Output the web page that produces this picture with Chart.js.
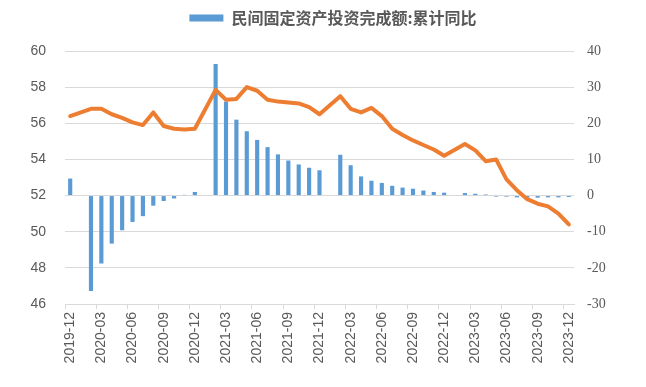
<!DOCTYPE html>
<html>
<head>
<meta charset="utf-8">
<script src="https://cdn.jsdelivr.net/npm/chart.js@4.4.1/dist/chart.umd.min.js"></script>
<style>
  html, body { margin: 0; padding: 0; background: #fff; }
</style>
</head>
<body>
<canvas id="grafico" width="646" height="387"></canvas>
<script>
// meses (janeiro sem dado: dados de jan-fev saem juntos)
const meses = [
  '2019-12',
  '2020-01', '2020-02', '2020-03', '2020-04', '2020-05', '2020-06',
  '2020-07', '2020-08', '2020-09', '2020-10', '2020-11', '2020-12',
  '2021-01', '2021-02', '2021-03', '2021-04', '2021-05', '2021-06',
  '2021-07', '2021-08', '2021-09', '2021-10', '2021-11', '2021-12',
  '2022-01', '2022-02', '2022-03', '2022-04', '2022-05', '2022-06',
  '2022-07', '2022-08', '2022-09', '2022-10', '2022-11', '2022-12',
  '2023-01', '2023-02', '2023-03', '2023-04', '2023-05', '2023-06',
  '2023-07', '2023-08', '2023-09', '2023-10', '2023-11', '2023-12'
];

// 民间固定资产投资完成额:累计同比 (%), eixo direito
const acumulado = [
  4.7,
  null, -26.4, -18.8, -13.3, -9.6, -7.3,
  -5.7, -2.8, -1.5, -0.8, 0.2, 1.0,
  null, 36.4, 26.0, 21.0, 17.8, 15.4,
  13.4, 11.4, 9.7, 8.6, 7.7, 7.0,
  null, 11.3, 8.4, 5.3, 4.1, 3.5,
  2.7, 2.2, 1.9, 1.4, 1.0, 0.8,
  null, 0.7, 0.5, 0.3, -0.3, -0.3,
  -0.5, -0.6, -0.6, -0.5, -0.5, -0.4
];

// linha laranja (%), eixo esquerdo
const participacao = [
  56.4,
  null, 56.8, 56.8, 56.5, 56.3, 56.05,
  55.9, 56.6, 55.85, 55.7, 55.65, 55.7,
  null, 57.85, 57.3, 57.35, 58.0, 57.8,
  57.3, 57.2, 57.15, 57.1, 56.9, 56.5,
  null, 57.5, 56.8, 56.6, 56.85, 56.4,
  55.7, 55.35, 55.05, 54.8, 54.55, 54.2,
  null, 54.85, 54.5, 53.9, 54.0, 52.9,
  52.3, 51.8, 51.55, 51.4, 51.0, 50.4
];

const ticksEsquerda = [46, 48, 50, 52, 54, 56, 58, 60];
const ticksDireita = [-30, -20, -10, 0, 10, 20, 30, 40];

const cinza = '#595959';
const linhaGrade = '#D9D9D9';

// espaco extra embaixo da legenda
const legendaAlta = {
  id: 'legendaAlta',
  beforeInit(chart) {
    const fitOriginal = chart.legend.fit;
    chart.legend.fit = function () {
      fitOriginal.bind(chart.legend)();
      this.height += 15;
    };
  }
};

new Chart(document.getElementById('grafico'), {
  type: 'bar',
  data: {
    labels: meses,
    datasets: [
      {
        type: 'line',
        label: '民间投资占比',
        data: participacao,
        yAxisID: 'yEsq',
        borderColor: '#ED7D31',
        borderWidth: 4,
        borderJoinStyle: 'round',
        borderCapStyle: 'round',
        pointRadius: 0,
        tension: 0,
        spanGaps: true,
        order: 0
      },
      {
        type: 'bar',
        label: '民间固定资产投资完成额:累计同比',
        data: acumulado,
        yAxisID: 'yDir',
        backgroundColor: '#5B9BD5',
        categoryPercentage: 1,
        barPercentage: 0.4,
        order: 1
      }
    ]
  },
  options: {
    responsive: false,
    animation: false,
    layout: { padding: { left: 20, right: 0, top: 0, bottom: 0 } },
    plugins: {
      legend: {
        position: 'top',
        labels: {
          filter: item => item.datasetIndex === 1,
          boxWidth: 34,
          boxHeight: 7,
          padding: 10,
          color: cinza,
          font: { family: 'Noto Sans CJK SC', size: 16, weight: 'bold' }
        }
      },
      tooltip: { enabled: false }
    },
    scales: {
      x: {
        offset: true,
        grid: {
          offset: true,
          drawOnChartArea: false,
          tickLength: 5,
          color: ctx => ctx.index % 3 === 0 ? linhaGrade : 'rgba(0,0,0,0)'
        },
        border: { color: linhaGrade },
        ticks: {
          autoSkip: false,
          minRotation: 90,
          maxRotation: 90,
          padding: 3,
          color: cinza,
          font: { family: 'Liberation Sans', size: 14 },
          callback: (v, i) => i % 3 === 0 ? meses[i] : ''
        },
        afterFit: s => { s.height = 83; }
      },
      yEsq: {
        position: 'left',
        min: ticksEsquerda[0],
        max: ticksEsquerda[ticksEsquerda.length - 1],
        afterBuildTicks: s => { s.ticks = ticksEsquerda.map(v => ({ value: v })); },
        grid: { color: linhaGrade, drawTicks: false },
        border: { display: false },
        ticks: {
          padding: 19,
          color: cinza,
          font: { family: 'Liberation Sans', size: 14 }
        },
        afterFit: s => { s.width = 45; }
      },
      yDir: {
        position: 'right',
        min: ticksDireita[0],
        max: ticksDireita[ticksDireita.length - 1],
        afterBuildTicks: s => { s.ticks = ticksDireita.map(v => ({ value: v })); },
        grid: { drawOnChartArea: false, drawTicks: false },
        border: { display: false },
        ticks: {
          padding: 13,
          color: cinza,
          font: { family: 'Liberation Serif', size: 14 }
        },
        afterFit: s => { s.width = 72; }
      }
    }
  },
  plugins: [legendaAlta]
});
</script>
</body>
</html>
